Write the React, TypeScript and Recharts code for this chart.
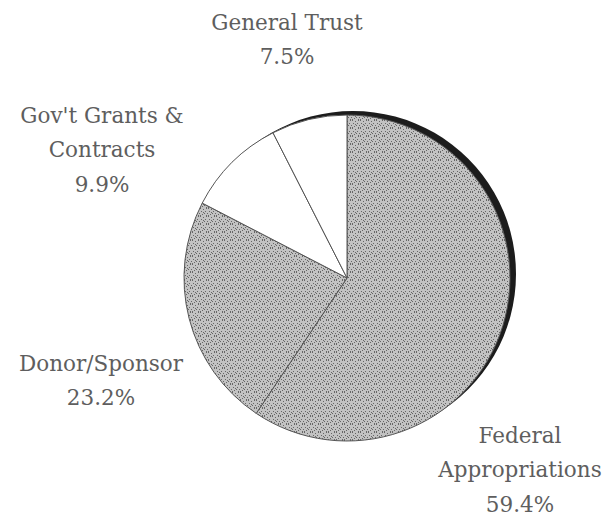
import { PieChart, Pie, Cell } from "recharts";

const SLICE_NAMES = ["Federal Appropriations", "Donor/Sponsor", "Gov't Grants & Contracts", "General Trust"];
const SLICE_VALUES = [59.4, 23.2, 9.9, 7.5];
const LABEL_LINES = [
    ["Federal", "Appropriations"],
    ["Donor/Sponsor"],
    ["Gov't Grants &", "Contracts"],
    ["General Trust"],
];

const FILLS = ["url(#stipple) #b0b0b0", "url(#stipple) #b0b0b0", "#ffffff", "#ffffff"];
// label block centres, measured from the pie centre
const LABEL_OFFSETS = [
    { dx: 173, dy: 157 },
    { dx: -246, dy: 85 },
    { dx: -245, dy: -163 },
    { dx: -60, dy: -256 },
];

const CX = 347;
const CY = 278;
const R = 163;
const LINE_H = 34.5;

const data = SLICE_NAMES.map((name, i) => ({ name, value: SLICE_VALUES[i] }));
const shadow = [{ name: "shadow", value: 1 }];

// dark specks for the stipple texture
const SPECKS = [
    [0, 0], [3, 1], [6, 0], [1, 3], [5, 3], [7, 5], [2, 6], [4, 5], [0, 7], [6, 7], [3, 4],
];

function renderLabel(props: any) {
    const { index, value } = props;
    const off = LABEL_OFFSETS[index];
    const x = CX + off.dx;
    const y = CY + off.dy;
    const lines = [...LABEL_LINES[index], `${Number(value).toFixed(1)}%`];
    return (
        <g key={`lbl-${index}`}>
            {lines.map((t, i) => (
                <text
                    key={i}
                    x={x}
                    y={y + i * LINE_H}
                    textAnchor="middle"
                    dominantBaseline="central"
                    fill="#5e5e5e"
                    fontFamily="'DejaVu Serif', serif"
                    fontSize={21.5}
                >
                    {t}
                </text>
            ))}
        </g>
    );
}

export default function App() {
    return (
        <div style={{ position: "absolute", left: 0, top: 0, width: 612, height: 516, background: "#fff" }}>
            <PieChart width={612} height={516} margin={{ top: 0, right: 0, bottom: 0, left: 0 }}>
                <defs>
                    <pattern id="stipple" width={8} height={8} patternUnits="userSpaceOnUse">
                        <rect width={8} height={8} fill="#c2c2c2" />
                        {SPECKS.map(([sx, sy], i) => (
                            <rect key={i} x={sx} y={sy} width={1} height={1} fill="#666" />
                        ))}
                    </pattern>
                </defs>
                <Pie
                    data={shadow}
                    dataKey="value"
                    cx={CX + 6}
                    cy={CY - 4}
                    outerRadius={R}
                    startAngle={90}
                    endAngle={-270}
                    fill="#1c1c1c"
                    stroke="none"
                    isAnimationActive={false}
                />
                <Pie
                    data={data}
                    dataKey="value"
                    cx={CX}
                    cy={CY}
                    outerRadius={R}
                    startAngle={90}
                    endAngle={-270}
                    stroke="#555"
                    strokeWidth={1}
                    label={renderLabel}
                    labelLine={false}
                    isAnimationActive={false}
                >
                    {data.map((entry, index) => (
                        <Cell key={`cell-${index}`} fill={FILLS[index]} />
                    ))}
                </Pie>
            </PieChart>
        </div>
    );
}
